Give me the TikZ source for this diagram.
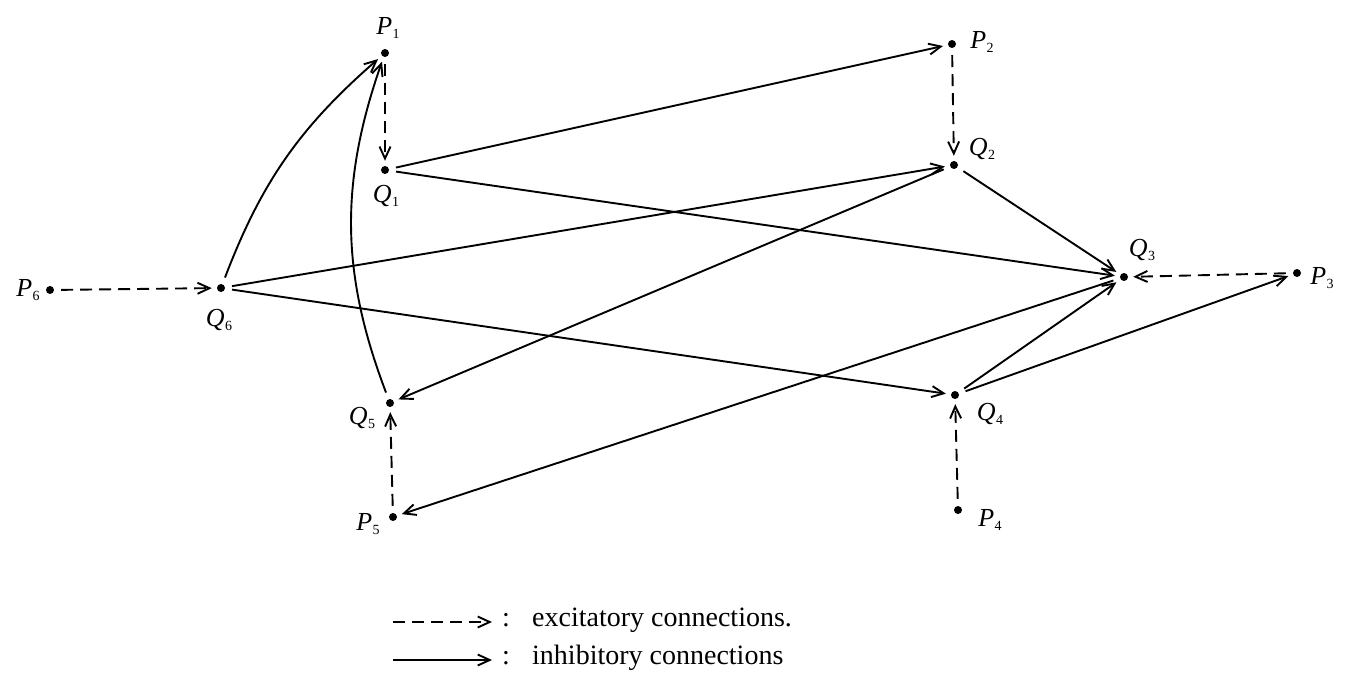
\documentclass[tikz,border=0pt]{standalone}
\usepackage{fontspec}
\setmainfont{Liberation Serif}
\usetikzlibrary{arrows.meta}
\newcommand{\lblPQ}[2]{\textit{#1}\kern0.5pt\raisebox{-0.35ex}{\fontsize{14}{14}\selectfont #2}}
\tikzset{
  dot/.style={circle,fill=black,inner sep=0pt,minimum size=8pt},
  lab/.style={inner sep=0pt,font=\fontsize{26}{26}\selectfont},
  inh/.style={line width=1.9pt,-{Straight Barb[length=12pt,width=11pt,line width=1.9pt]},shorten >=5pt,shorten <=7pt},
  exc/.style={inh,dash pattern=on 12pt off 7pt},
  legtext/.style={inner sep=0pt,anchor=west,font=\fontsize{28}{28}\selectfont}
}
\begin{document}
\begin{tikzpicture}[x=1pt,y=-1pt]
\useasboundingbox (0,0) rectangle (1349,685);
% nodes
\node[dot] (P1) at (385,53) {};
\node[dot] (Q1) at (385,170) {};
\node[dot] (P2) at (952,44) {};
\node[dot] (Q2) at (954,165) {};
\node[dot] (Q3) at (1124,277) {};
\node[dot] (P3) at (1297,273) {};
\node[dot] (P6) at (50,290) {};
\node[dot] (Q6) at (221,288) {};
\node[dot] (Q5) at (390,403) {};
\node[dot] (P5) at (393,517) {};
\node[dot] (Q4) at (955,395) {};
\node[dot] (P4) at (958,510) {};
% labels
\node[lab] (lP1) at (388,28) {\lblPQ{P}{1}};
\node[lab] (lQ1) at (386,196) {\lblPQ{Q}{1}};
\node[lab] (lP2) at (982,42) {\lblPQ{P}{2}};
\node[lab] (lQ2) at (982,149) {\lblPQ{Q}{2}};
\node[lab] (lQ3) at (1142,250) {\lblPQ{Q}{3}};
\node[lab] (lP3) at (1322,278) {\lblPQ{P}{3}};
\node[lab] (lP6) at (28,290) {\lblPQ{P}{6}};
\node[lab] (lQ6) at (219,320) {\lblPQ{Q}{6}};
\node[lab] (lQ5) at (362,418) {\lblPQ{Q}{5}};
\node[lab] (lP5) at (368,524) {\lblPQ{P}{5}};
\node[lab] (lQ4) at (990,414) {\lblPQ{Q}{4}};
\node[lab] (lP4) at (990,520) {\lblPQ{P}{4}};
% excitatory
\draw[exc] (P1) -- (Q1);
\draw[exc] (P2) -- (Q2);
\draw[exc] (P3) -- (Q3);
\draw[exc] (P4) -- (Q4);
\draw[exc] (P5) -- (Q5);
\draw[exc] (P6) -- (Q6);
% inhibitory
\draw[inh] (Q1) -- (P2);
\draw[inh] (Q1) -- (Q3);
\draw[inh] (Q2) -- (Q3);
\draw[inh] (Q2) -- (Q5);
\draw[inh] (Q6) to[bend left=14] (P1);
\draw[inh] (Q5) to[bend left=20] (P1);
\draw[inh] (Q6) -- (Q2);
\draw[inh] (Q6) -- (Q4);
\draw[inh] (Q3) -- (P5);
\draw[inh] (Q4) -- (Q3);
\draw[inh] (Q4) -- (P3);
% legend
\coordinate (le1) at (393,622);
\coordinate (le2) at (492,622);
\coordinate (li1) at (393,660);
\coordinate (li2) at (492,660);
\draw[exc,shorten <=0pt,shorten >=0pt] (le1) -- (le2);
\draw[inh,shorten <=0pt,shorten >=0pt] (li1) -- (li2);
\node[legtext] (tc1) at (502,620) {:};
\node[legtext] (tc2) at (502,658) {:};
\node[legtext] (te) at (532,620) {excitatory connections.};
\node[legtext] (ti) at (532,658) {inhibitory connections};
\end{tikzpicture}
\end{document}
